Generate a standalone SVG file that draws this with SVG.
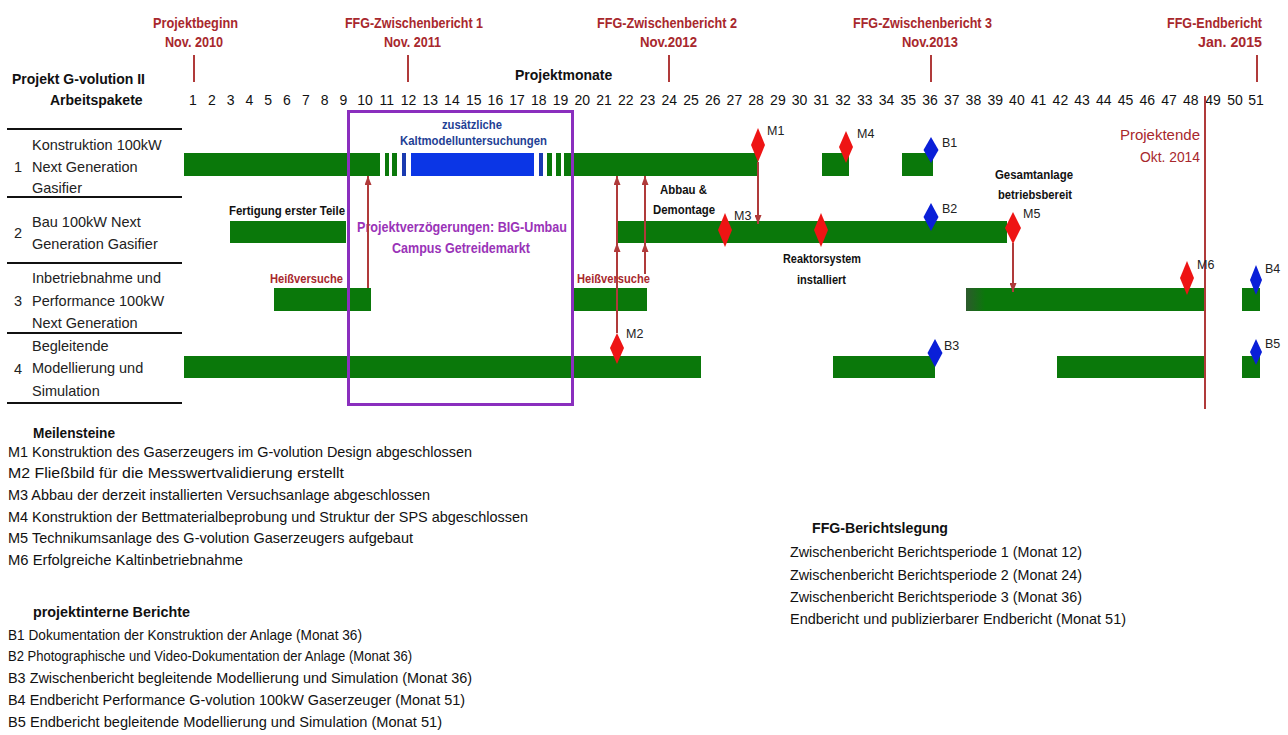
<svg xmlns="http://www.w3.org/2000/svg" width="1288" height="735" viewBox="0 0 1288 735">
<style>
text{font-family:"Liberation Sans",Arial,sans-serif}
.bar{fill:#0a780a}
.kb{fill:#0b36e6}
.kd{fill:#1a3ab0}
.ms{fill:#ee1414}
.rp{fill:#0a1fd8}
.conn{stroke:#b03a3a;stroke-width:2;fill:none}
.tick{stroke:#b03a3a;stroke-width:2}
.rule{stroke:#111;stroke-width:2}
.hdr{font-weight:bold;font-size:15px;fill:#a8282d}
.hb{font-weight:bold;font-size:14px;fill:#111}
.num{font-size:14px;fill:#111;text-anchor:middle}
.lbl{font-size:14.5px;fill:#222}
.b13{font-weight:bold;font-size:13px;fill:#111}
.red13{font-weight:bold;font-size:13px;fill:#a8282d}
.blu{font-weight:bold;font-size:13px;fill:#1f3f95}
.pur{font-weight:bold;font-size:15px;fill:#9a33b8}
.ml{font-size:12.5px;fill:#222}
.end{font-size:15px;fill:#a8282d}
.leg{font-size:15px;fill:#111}
</style>
<defs>
<marker id="ah" viewBox="0 0 10 10" refX="10" refY="5" markerWidth="9" markerHeight="7" markerUnits="userSpaceOnUse" orient="auto" preserveAspectRatio="none">
<path d="M0,0 L10,5 L0,10 z" fill="#b03a3a"/>
</marker>
<linearGradient id="g3" x1="0" y1="0" x2="1" y2="0">
<stop offset="0" stop-color="#2d5a2d"/>
<stop offset="0.08" stop-color="#0a780a"/>
</linearGradient>
</defs>
<rect width="1288" height="735" fill="#fff"/>

<g id="header">
<text class="hdr" x="153" y="28" textLength="85" lengthAdjust="spacingAndGlyphs">Projektbeginn</text>
<text class="hdr" x="165" y="47" textLength="58" lengthAdjust="spacingAndGlyphs">Nov. 2010</text>
<text class="hdr" x="345" y="28" textLength="138" lengthAdjust="spacingAndGlyphs">FFG-Zwischenbericht 1</text>
<text class="hdr" x="384" y="47" textLength="57" lengthAdjust="spacingAndGlyphs">Nov. 2011</text>
<text class="hdr" x="597" y="28" textLength="140" lengthAdjust="spacingAndGlyphs">FFG-Zwischenbericht 2</text>
<text class="hdr" x="640" y="47" textLength="57" lengthAdjust="spacingAndGlyphs">Nov.2012</text>
<text class="hdr" x="853" y="28" textLength="139" lengthAdjust="spacingAndGlyphs">FFG-Zwischenbericht 3</text>
<text class="hdr" x="902" y="47" textLength="56" lengthAdjust="spacingAndGlyphs">Nov.2013</text>
<text class="hdr" x="1167" y="28" textLength="95" lengthAdjust="spacingAndGlyphs">FFG-Endbericht</text>
<text class="hdr" x="1198" y="47" textLength="64" lengthAdjust="spacingAndGlyphs">Jan. 2015</text>
<line class="tick" x1="194" y1="55" x2="194" y2="82"/>
<line class="tick" x1="408" y1="55" x2="408" y2="82"/>
<line class="tick" x1="669" y1="55" x2="669" y2="82"/>
<line class="tick" x1="931" y1="55" x2="931" y2="82"/>
<line class="tick" x1="1257" y1="55" x2="1257" y2="82"/>
<text class="hb" x="12" y="84">Projekt G-volution II</text>
<text class="hb" x="50" y="105">Arbeitspakete</text>
<text class="hb" x="515" y="80">Projektmonate</text>
</g>

<g id="months">
<text class="num" x="193" y="105">1</text>
<text class="num" x="211.8" y="105">2</text>
<text class="num" x="230.6" y="105">3</text>
<text class="num" x="249.4" y="105">4</text>
<text class="num" x="268.2" y="105">5</text>
<text class="num" x="287" y="105">6</text>
<text class="num" x="305.8" y="105">7</text>
<text class="num" x="324.6" y="105">8</text>
<text class="num" x="343.4" y="105">9</text>
<text class="num" x="365" y="105">10</text>
<text class="num" x="386.7" y="105">11</text>
<text class="num" x="408.5" y="105">12</text>
<text class="num" x="430.2" y="105">13</text>
<text class="num" x="451.9" y="105">14</text>
<text class="num" x="473.7" y="105">15</text>
<text class="num" x="495.4" y="105">16</text>
<text class="num" x="517.1" y="105">17</text>
<text class="num" x="538.8" y="105">18</text>
<text class="num" x="560.6" y="105">19</text>
<text class="num" x="582.3" y="105">20</text>
<text class="num" x="604" y="105">21</text>
<text class="num" x="625.8" y="105">22</text>
<text class="num" x="647.5" y="105">23</text>
<text class="num" x="669.2" y="105">24</text>
<text class="num" x="691" y="105">25</text>
<text class="num" x="712.7" y="105">26</text>
<text class="num" x="734.4" y="105">27</text>
<text class="num" x="756.1" y="105">28</text>
<text class="num" x="777.9" y="105">29</text>
<text class="num" x="799.6" y="105">30</text>
<text class="num" x="821.3" y="105">31</text>
<text class="num" x="843.1" y="105">32</text>
<text class="num" x="864.8" y="105">33</text>
<text class="num" x="886.5" y="105">34</text>
<text class="num" x="908.3" y="105">35</text>
<text class="num" x="930" y="105">36</text>
<text class="num" x="951.7" y="105">37</text>
<text class="num" x="973.4" y="105">38</text>
<text class="num" x="995.2" y="105">39</text>
<text class="num" x="1016.9" y="105">40</text>
<text class="num" x="1038.6" y="105">41</text>
<text class="num" x="1060.4" y="105">42</text>
<text class="num" x="1082.1" y="105">43</text>
<text class="num" x="1103.8" y="105">44</text>
<text class="num" x="1125.6" y="105">45</text>
<text class="num" x="1147.3" y="105">46</text>
<text class="num" x="1169" y="105">47</text>
<text class="num" x="1190.7" y="105">48</text>
<text class="num" x="1213" y="105">49</text>
<text class="num" x="1235" y="105">50</text>
<text class="num" x="1256" y="105">51</text>
</g>

<g id="table">
<line class="rule" x1="7" y1="129" x2="182" y2="129"/>
<line class="rule" x1="7" y1="197" x2="182" y2="197"/>
<line class="rule" x1="7" y1="263" x2="182" y2="263"/>
<line class="rule" x1="7" y1="333" x2="182" y2="333"/>
<line class="rule" x1="7" y1="403" x2="182" y2="403"/>
</g>

<g id="ap1">
<text class="lbl" x="14" y="171.5">1</text>
<text class="lbl" x="32" y="150">Konstruktion 100kW</text>
<text class="lbl" x="32" y="171.5">Next Generation</text>
<text class="lbl" x="32" y="193">Gasifier</text>
<rect class="bar" x="184" y="153" width="196" height="23"/>
<rect class="bar" x="385" y="153" width="4" height="23"/>
<rect class="bar" x="392" y="153" width="5" height="23"/>
<rect class="kd" x="402" y="153" width="4" height="23"/>
<rect class="kb" x="411" y="153" width="123" height="23"/>
<rect class="kd" x="539" y="153" width="4" height="23"/>
<rect class="bar" x="547" y="153" width="5" height="23"/>
<rect class="bar" x="556" y="153" width="5" height="23"/>
<rect class="bar" x="564" y="153" width="194" height="23"/>
<rect class="bar" x="822" y="153" width="27" height="23"/>
<rect class="bar" x="902" y="153" width="31" height="23"/>
<text class="blu" x="442" y="129" textLength="60" lengthAdjust="spacingAndGlyphs">zusätzliche</text>
<text class="blu" x="400" y="145" textLength="147" lengthAdjust="spacingAndGlyphs">Kaltmodelluntersuchungen</text>
</g>

<g id="ap2">
<text class="lbl" x="14" y="238">2</text>
<text class="lbl" x="32" y="227">Bau 100kW Next</text>
<text class="lbl" x="32" y="249">Generation Gasifier</text>
<rect class="bar" x="230" y="221" width="116" height="22"/>
<rect class="bar" x="617" y="221" width="390" height="22"/>
<text class="b13" x="229" y="215" textLength="116" lengthAdjust="spacingAndGlyphs">Fertigung erster Teile</text>
<text class="b13" x="660" y="194" textLength="47" lengthAdjust="spacingAndGlyphs">Abbau &amp;</text>
<text class="b13" x="653" y="214" textLength="62" lengthAdjust="spacingAndGlyphs">Demontage</text>
<text class="b13" x="783" y="263" textLength="78" lengthAdjust="spacingAndGlyphs">Reaktorsystem</text>
<text class="b13" x="797" y="284" textLength="49" lengthAdjust="spacingAndGlyphs">installiert</text>
<text class="b13" x="995" y="179" textLength="78" lengthAdjust="spacingAndGlyphs">Gesamtanlage</text>
<text class="b13" x="998" y="199" textLength="74" lengthAdjust="spacingAndGlyphs">betriebsbereit</text>
</g>

<g id="ap3">
<text class="lbl" x="14" y="306">3</text>
<text class="lbl" x="32" y="283">Inbetriebnahme und</text>
<text class="lbl" x="32" y="306">Performance 100kW</text>
<text class="lbl" x="32" y="328">Next Generation</text>
<rect class="bar" x="274" y="288" width="97" height="23"/>
<rect class="bar" x="574" y="288" width="73" height="23"/>
<rect x="966" y="288" width="239" height="23" fill="url(#g3)"/>
<rect class="bar" x="1242" y="288" width="18" height="23"/>
<text class="red13" x="270" y="283" textLength="73" lengthAdjust="spacingAndGlyphs">Heißversuche</text>
<text class="red13" x="577" y="283" textLength="73" lengthAdjust="spacingAndGlyphs">Heißversuche</text>
</g>

<g id="ap4">
<text class="lbl" x="14" y="374">4</text>
<text class="lbl" x="32" y="351">Begleitende</text>
<text class="lbl" x="32" y="373">Modellierung und</text>
<text class="lbl" x="32" y="396">Simulation</text>
<rect class="bar" x="184" y="356" width="517" height="22"/>
<rect class="bar" x="833" y="356" width="102" height="22"/>
<rect class="bar" x="1057" y="356" width="148" height="22"/>
<rect class="bar" x="1242" y="356" width="18" height="22"/>
</g>

<g id="delay">
<rect x="348.5" y="111.5" width="224" height="293" fill="none" stroke="#8a2fbe" stroke-width="3"/>
<text class="pur" x="357" y="232" textLength="210" lengthAdjust="spacingAndGlyphs">Projektverzögerungen: BIG-Umbau</text>
<text class="pur" x="392" y="253" textLength="138" lengthAdjust="spacingAndGlyphs">Campus Getreidemarkt</text>
</g>

<g id="projektende">
<line class="tick" x1="1205" y1="96" x2="1205" y2="409"/>
<text class="end" x="1200" y="140" text-anchor="end">Projektende</text>
<text class="end" x="1140" y="162" textLength="60" lengthAdjust="spacingAndGlyphs">Okt. 2014</text>
</g>

<g id="connectors">
<line class="conn" x1="368" y1="288" x2="368" y2="176" marker-end="url(#ah)"/>
<line class="conn" x1="617" y1="333" x2="617" y2="243" marker-end="url(#ah)"/>
<line class="conn" x1="617" y1="243" x2="617" y2="176" marker-end="url(#ah)"/>
<line class="conn" x1="645" y1="274" x2="645" y2="243" marker-end="url(#ah)"/>
<line class="conn" x1="645" y1="243" x2="645" y2="176" marker-end="url(#ah)"/>
<line class="conn" x1="758" y1="162" x2="758" y2="224" marker-end="url(#ah)"/>
<line class="conn" x1="1013" y1="243" x2="1013" y2="292" marker-end="url(#ah)"/>
</g>

<g id="M1"><polygon class="ms" points="758,128 765,145 758,162 751,145"/><text class="ml" x="767" y="135">M1</text></g>
<g id="M2"><polygon class="ms" points="617,333 624,348 617,364 610,348"/><text class="ml" x="626" y="338">M2</text></g>
<g id="M3"><polygon class="ms" points="725,213 732,230 725,247 718,230"/><text class="ml" x="734" y="220">M3</text></g>
<g id="M4"><polygon class="ms" points="846,131 853,147 846,163 839,147"/><text class="ml" x="857" y="138">M4</text></g>
<g id="reaktor"><polygon class="ms" points="821,213 828,230 821,247 814,230"/></g>
<g id="M5"><polygon class="ms" points="1013,212 1021,228 1013,244 1005,228"/><text class="ml" x="1023" y="218">M5</text></g>
<g id="M6"><polygon class="ms" points="1187,261 1194,278 1187,295 1180,278"/><text class="ml" x="1197" y="269">M6</text></g>
<g id="B1"><polygon class="rp" points="931,137 938.5,150 931,163 923.5,150"/><text class="ml" x="942" y="147">B1</text></g>
<g id="B2"><polygon class="rp" points="931,203 938.5,217 931,231 923.5,217"/><text class="ml" x="942" y="213">B2</text></g>
<g id="B3"><polygon class="rp" points="935,339 942.5,353 935,367 927.5,353"/><text class="ml" x="944" y="350">B3</text></g>
<g id="B4"><polygon class="rp" points="1256,265 1262,280 1256,295 1250,280"/><text class="ml" x="1265" y="273">B4</text></g>
<g id="B5"><polygon class="rp" points="1256,339 1262,352 1256,365 1250,352"/><text class="ml" x="1265" y="348">B5</text></g>

<g id="legend-milestones">
<text class="hb" x="33" y="438" textLength="82" lengthAdjust="spacingAndGlyphs">Meilensteine</text>
<text class="leg" x="8" y="457" textLength="464" lengthAdjust="spacingAndGlyphs">M1 Konstruktion des Gaserzeugers im G-volution Design abgeschlossen</text>
<text class="leg" x="8" y="478" textLength="336" lengthAdjust="spacingAndGlyphs">M2 Fließbild für die Messwertvalidierung erstellt</text>
<text class="leg" x="8" y="500" textLength="422" lengthAdjust="spacingAndGlyphs">M3 Abbau der derzeit installierten Versuchsanlage abgeschlossen</text>
<text class="leg" x="8" y="522" textLength="520" lengthAdjust="spacingAndGlyphs">M4 Konstruktion der Bettmaterialbeprobung und Struktur der SPS abgeschlossen</text>
<text class="leg" x="8" y="543" textLength="405" lengthAdjust="spacingAndGlyphs">M5 Technikumsanlage des G-volution Gaserzeugers aufgebaut</text>
<text class="leg" x="8" y="565" textLength="235" lengthAdjust="spacingAndGlyphs">M6 Erfolgreiche Kaltinbetriebnahme</text>
</g>

<g id="legend-reports">
<text class="hb" x="33" y="617" textLength="157" lengthAdjust="spacingAndGlyphs">projektinterne Berichte</text>
<text class="leg" x="8" y="640" textLength="354" lengthAdjust="spacingAndGlyphs">B1 Dokumentation der Konstruktion der Anlage (Monat 36)</text>
<text class="leg" x="8" y="661" textLength="404" lengthAdjust="spacingAndGlyphs">B2 Photographische und Video-Dokumentation der Anlage (Monat 36)</text>
<text class="leg" x="8" y="683" textLength="464" lengthAdjust="spacingAndGlyphs">B3 Zwischenbericht begleitende Modellierung und Simulation (Monat 36)</text>
<text class="leg" x="8" y="705" textLength="457" lengthAdjust="spacingAndGlyphs">B4 Endbericht Performance G-volution 100kW Gaserzeuger (Monat 51)</text>
<text class="leg" x="8" y="727" textLength="434" lengthAdjust="spacingAndGlyphs">B5 Endbericht begleitende Modellierung und Simulation (Monat 51)</text>
</g>

<g id="legend-ffg">
<text class="hb" x="812" y="533" textLength="136" lengthAdjust="spacingAndGlyphs">FFG-Berichtslegung</text>
<text class="leg" x="790" y="557" textLength="292" lengthAdjust="spacingAndGlyphs">Zwischenbericht Berichtsperiode 1 (Monat 12)</text>
<text class="leg" x="790" y="580" textLength="292" lengthAdjust="spacingAndGlyphs">Zwischenbericht Berichtsperiode 2 (Monat 24)</text>
<text class="leg" x="790" y="602" textLength="292" lengthAdjust="spacingAndGlyphs">Zwischenbericht Berichtsperiode 3 (Monat 36)</text>
<text class="leg" x="790" y="624" textLength="336" lengthAdjust="spacingAndGlyphs">Endbericht und publizierbarer Endbericht (Monat 51)</text>
</g>
</svg>
